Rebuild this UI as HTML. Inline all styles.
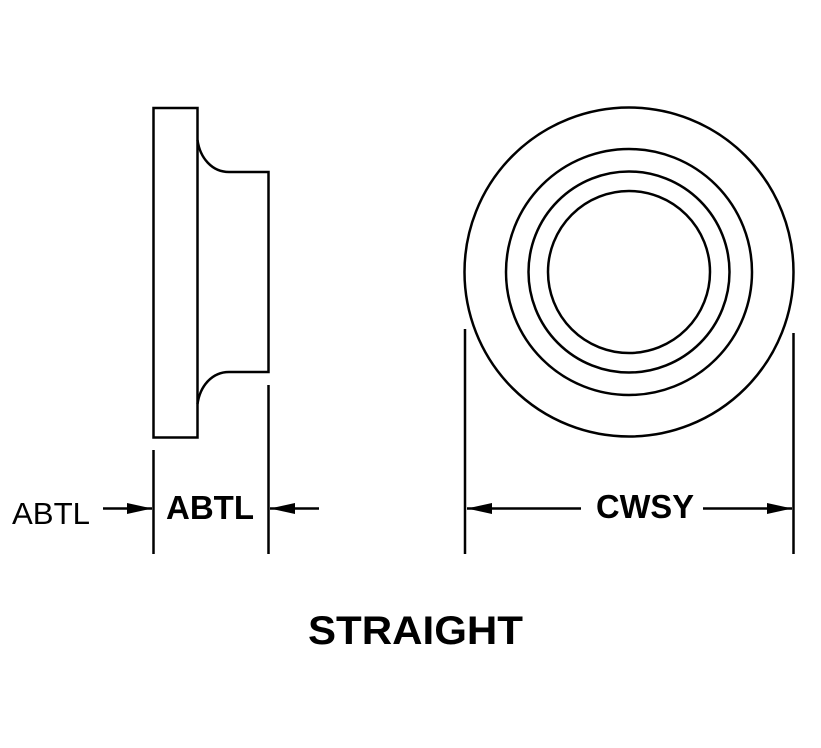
<!DOCTYPE html>
<html>
<head>
<meta charset="utf-8">
<style>
html,body{margin:0;padding:0;background:#fff;}
svg{display:block;}
text{font-family:"Liberation Sans",sans-serif;fill:#000;}
</style>
</head>
<body>
<svg width="821" height="748" viewBox="0 0 821 748" xmlns="http://www.w3.org/2000/svg">
<g fill="none" stroke="#000" stroke-width="2.5">
<rect x="153.500" y="108" width="44" height="329.500"/>
<path d="M197.500 140 C200 158 212 172 229 172 L268.500 172 L268.500 372 L229 372 C212 372 200 386 197.500 404"/>
<circle cx="629" cy="272" r="164.500"/>
<circle cx="629" cy="272" r="123"/>
<circle cx="629" cy="272" r="100.500"/>
<circle cx="629" cy="272" r="81"/>
<path d="M153.500 450V554M268.500 385V554M465 329V554M793.500 333V554"/>
<path d="M103 508.500H152M270 508.500H319M467 508.500H581M703 508.500H792"/>
</g>
<g fill="#000">
<path d="M152 508.500L127 503V514Z"/>
<path d="M270 508.500L295 503V514Z"/>
<path d="M467 508.500L492 503V514Z"/>
<path d="M792 508.500L767 503V514Z"/>
</g>
<text x="12" y="524" font-size="31" textLength="78" lengthAdjust="spacingAndGlyphs">ABTL</text>
<text x="166" y="519" font-size="33" font-weight="bold">ABTL</text>
<text x="596" y="518" font-size="33" font-weight="bold" textLength="98" lengthAdjust="spacingAndGlyphs">CWSY</text>
<text x="308" y="644" font-size="40" font-weight="bold" textLength="215" lengthAdjust="spacingAndGlyphs">STRAIGHT</text>
</svg>
</body>
</html>
